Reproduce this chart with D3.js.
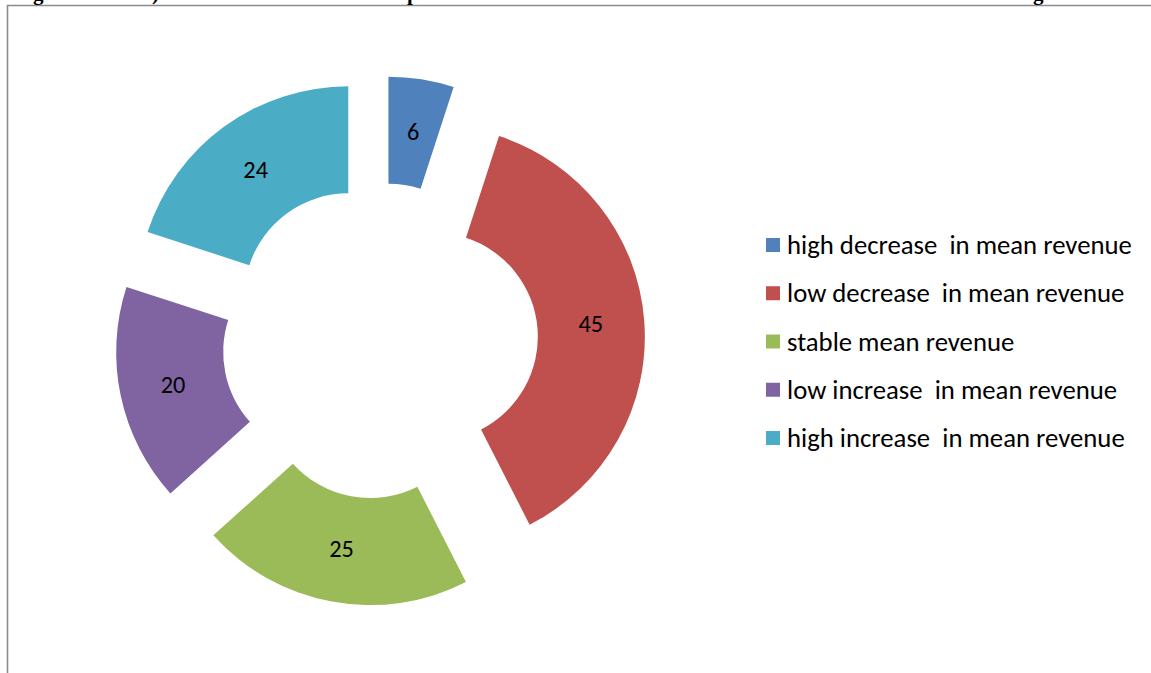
<!DOCTYPE html>
<html>
<head>
<meta charset="utf-8">
<script src="https://cdn.jsdelivr.net/npm/d3@7"></script>
<style>
  html, body { margin: 0; padding: 0; background: #fff; }
  svg { display: block; }
</style>
</head>
<body>
<svg id="chart" width="1151" height="673"></svg>
<script>
// Revenue-change groups and their counts
const categories = [
  "high decrease  in mean revenue",
  "low decrease  in mean revenue",
  "stable mean revenue",
  "low increase  in mean revenue",
  "high increase  in mean revenue"
];
const values = [6, 45, 25, 20, 24];
const colors = ["#4F81BD", "#C0504D", "#9BBB59", "#8064A2", "#4BACC6"];
// Caption pieces; each piece starts at the glyph that hangs below the baseline
const titleParts = ["Fi", "gure 4.13", ") Distribution of the sam", "ple firms across the different levels of the mean revenue chan", "ge"];
const titleAnchors = [null, 33, 152, 407, 1033];

const W = 1151, H = 673;
const svg = d3.select("#chart");

// Frame of the figure (left and top rules)
svg.append("path")
  .attr("d", `M7.5,${H} V5.5 H${W}`)
  .attr("fill", "none")
  .attr("stroke", "#8c8c8c")
  .attr("stroke-width", 1.6);

// Caption line above the frame, only its descenders fall inside the page
const title = svg.append("text")
  .attr("y", -0.5)
  .attr("font-family", "Liberation Serif, serif")
  .attr("font-weight", "bold")
  .attr("font-size", 21)
  .attr("fill", "#000")
  .style("white-space", "pre")
  .attr("xml:space", "preserve");

const probe = svg.append("text")
  .attr("font-family", "Liberation Serif, serif")
  .attr("font-weight", "bold")
  .attr("font-size", 21)
  .style("white-space", "pre")
  .attr("xml:space", "preserve")
  .attr("visibility", "hidden");
const firstW = probe.text(titleParts[0]).node().getComputedTextLength();
probe.remove();

titleParts.forEach((t, i) => {
  const x = i === 0 ? titleAnchors[1] - firstW : titleAnchors[i];
  title.append("tspan").attr("x", x).text(t);
});

// Exploded doughnut
const cx = 380, cy = 341;
const outerR = 211, innerR = 104, explode = 54;

const pie = d3.pie().sort(null).value(d => d.value);
const arcs = pie(categories.map((c, i) => ({ name: c, value: values[i], color: colors[i] })));
const arcGen = d3.arc().innerRadius(innerR).outerRadius(outerR);
const labelR = (innerR + outerR) / 2;

const g = svg.append("g").attr("transform", `translate(${cx},${cy})`);

const slice = g.selectAll("g.slice")
  .data(arcs)
  .join("g")
  .attr("class", "slice")
  .attr("transform", d => {
    const a = (d.startAngle + d.endAngle) / 2;
    return `translate(${explode * Math.sin(a)},${-explode * Math.cos(a)})`;
  });

slice.append("path")
  .attr("d", arcGen)
  .attr("fill", d => d.data.color);

slice.append("text")
  .attr("x", d => labelR * Math.sin((d.startAngle + d.endAngle) / 2))
  .attr("y", d => -labelR * Math.cos((d.startAngle + d.endAngle) / 2))
  .attr("text-anchor", "middle")
  .attr("dominant-baseline", "central")
  .attr("font-family", "Carlito, Lato, sans-serif")
  .attr("font-size", 20)
  .attr("fill", "#000")
  .text(d => d.data.value);

// Legend
const legendY = d3.scalePoint().domain(categories).range([245, 438]);
const legend = svg.append("g");
const item = legend.selectAll("g")
  .data(categories)
  .join("g")
  .attr("transform", d => `translate(766,${legendY(d)})`);

item.append("rect")
  .attr("x", 0).attr("y", -7)
  .attr("width", 14).attr("height", 14)
  .attr("fill", (d, i) => colors[i]);

const legendText = item.append("text")
  .attr("x", 21)
  .attr("y", 0)
  .attr("dominant-baseline", "central")
  .attr("font-family", "Carlito, Lato, sans-serif")
  .attr("font-size", 22)
  .attr("fill", "#000")
  .style("white-space", "pre")
  .attr("xml:space", "preserve")
  .text(d => d);

// Fit the first legend entry to its printed width
const w0 = legendText.node().getComputedTextLength();
const fs = 22 * 345 / w0;
legendText.attr("font-size", fs);
slice.selectAll("text").attr("font-size", fs * 20 / 22);
</script>
</body>
</html>
